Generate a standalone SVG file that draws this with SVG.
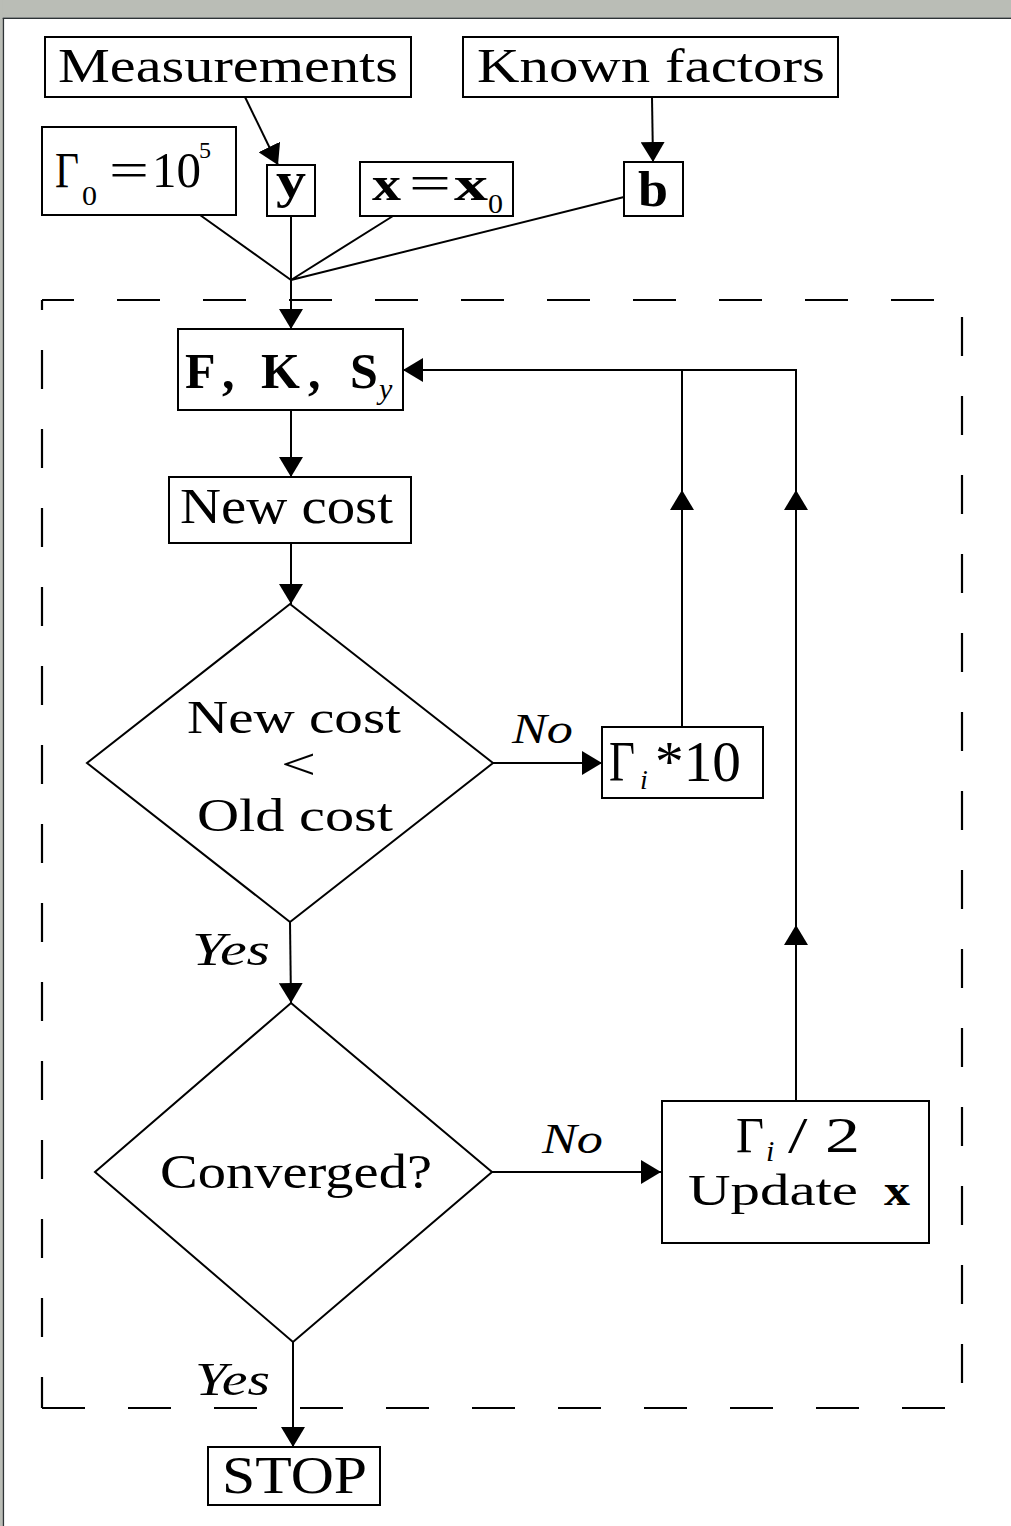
<svg xmlns="http://www.w3.org/2000/svg" width="1011" height="1526" viewBox="0 0 1011 1526">
  <style>
    .t { font-family: "Liberation Serif", "Times New Roman", serif; fill: #000; }
    .b { font-weight: bold; }
    .i { font-style: italic; }
    .box { fill: #fff; stroke: #000; stroke-width: 2; }
    .c { fill: none; stroke: #000; stroke-width: 2; }
    .arr { marker-end: url(#ah); }
    .dash { fill: none; stroke: #000; stroke-width: 2.2; }
  </style>
  <defs>
    <marker id="ah" viewBox="0 -12 20 24" refX="20" refY="0" markerWidth="20" markerHeight="24" markerUnits="userSpaceOnUse" orient="auto">
      <path d="M0,-12 L20,0 L0,12 Z" fill="#000"/>
    </marker>
  </defs>

  <!-- page and window edge -->
  <rect x="0" y="0" width="1011" height="1526" fill="#fff"/>
  <rect x="0" y="0" width="1011" height="17.5" fill="#babdb6"/>
  <rect x="0" y="0" width="2.7" height="1526" fill="#babdb6"/>
  <line x1="2.7" y1="18.2" x2="1011" y2="18.2" stroke="#2e3436" stroke-width="1.5"/>
  <line x1="3.4" y1="18" x2="3.4" y2="1526" stroke="#2e3436" stroke-width="1.4"/>

  <!-- iteration loop boundary -->
  <g id="loop-frame">
    <line class="dash" x1="42" y1="300" x2="962" y2="300" stroke-dasharray="43 43" stroke-dashoffset="11"/>
    <line class="dash" x1="962" y1="300" x2="962" y2="1408" stroke-dasharray="39 40" stroke-dashoffset="62"/>
    <line class="dash" x1="42" y1="300" x2="42" y2="1408" stroke-dasharray="39 40" stroke-dashoffset="29"/>
    <line class="dash" x1="42" y1="1408" x2="962" y2="1408" stroke-dasharray="43 43" stroke-dashoffset="0"/>
  </g>

  <!-- connectors -->
  <g id="connectors">
    <path class="c arr" d="M245,97 L278,165"/>
    <path class="c arr" d="M652,97 L653,162"/>
    <path class="c" d="M200,215 L291,280 M291,216 L291,280 M393,216 L291,280 M624,197 L291,280"/>
    <path class="c arr" d="M291,280 L291,329"/>
    <path class="c arr" d="M291,410 L291,477"/>
    <path class="c arr" d="M291,543 L291,604"/>
    <path class="c arr" d="M493,763 L602,763"/>
    <path class="c arr" d="M290,922 L291,1003"/>
    <path class="c arr" d="M492,1172 L661,1172"/>
    <path class="c arr" d="M293,1342 L293,1447"/>
    <path class="c arr" d="M682,727 L682,490"/>
    <path class="c" d="M682,490 L682,370"/>
    <path class="c arr" d="M796,1101 L796,925"/>
    <path class="c arr" d="M796,925 L796,490"/>
    <path class="c arr" d="M796,490 L796,370 L403,370"/>
    <text class="t i" x="512" y="743" font-size="42" textLength="61" lengthAdjust="spacingAndGlyphs">No</text>
    <text class="t i" x="542" y="1153" font-size="42" textLength="61" lengthAdjust="spacingAndGlyphs">No</text>
    <text class="t i" x="192" y="965" font-size="46" textLength="78" lengthAdjust="spacingAndGlyphs">Yes</text>
    <text class="t i" x="195" y="1395" font-size="46" textLength="75" lengthAdjust="spacingAndGlyphs">Yes</text>
  </g>

  <!-- inputs -->
  <g id="measurements">
    <rect class="box" x="45" y="37" width="366" height="60"/>
    <text class="t" x="58" y="82" font-size="49" textLength="340" lengthAdjust="spacingAndGlyphs">Measurements</text>
  </g>
  <g id="known-factors">
    <rect class="box" x="463" y="37" width="375" height="60"/>
    <text class="t" x="477" y="82" font-size="49" textLength="348" lengthAdjust="spacingAndGlyphs">Known factors</text>
  </g>
  <g id="gamma0">
    <rect class="box" x="42" y="127" width="194" height="88"/>
    <text class="t" x="55" y="187" font-size="50" textLength="24" lengthAdjust="spacingAndGlyphs">Γ</text>
    <text class="t" x="82" y="205" font-size="28" textLength="15" lengthAdjust="spacingAndGlyphs">0</text>
    <text class="t" x="109" y="187" font-size="50" textLength="40" lengthAdjust="spacingAndGlyphs">=</text>
    <text class="t" x="152" y="187" font-size="50" textLength="49" lengthAdjust="spacingAndGlyphs">10</text>
    <text class="t" x="199" y="158" font-size="24">5</text>
  </g>
  <g id="y">
    <rect class="box" x="267" y="165" width="48" height="51"/>
    <text class="t b" x="291" y="197" font-size="50" text-anchor="middle" textLength="30" lengthAdjust="spacingAndGlyphs">y</text>
  </g>
  <g id="x0">
    <rect class="box" x="360" y="162" width="153" height="54"/>
    <text class="t b" x="372" y="200" font-size="48" textLength="29" lengthAdjust="spacingAndGlyphs">x</text>
    <text class="t" x="409" y="200" font-size="50" textLength="42" lengthAdjust="spacingAndGlyphs">=</text>
    <text class="t b" x="454" y="200" font-size="48" textLength="34" lengthAdjust="spacingAndGlyphs">x</text>
    <text class="t" x="488" y="213" font-size="28" textLength="15" lengthAdjust="spacingAndGlyphs">0</text>
  </g>
  <g id="b">
    <rect class="box" x="624" y="162" width="59" height="54"/>
    <text class="t b" x="653" y="206" font-size="50" text-anchor="middle" textLength="30" lengthAdjust="spacingAndGlyphs">b</text>
  </g>

  <!-- loop body -->
  <g id="fks">
    <rect class="box" x="178" y="329" width="225" height="81"/>
    <text class="t b" y="388" font-size="50">
      <tspan x="185">F</tspan><tspan x="222">,</tspan><tspan x="261">K</tspan><tspan x="308">,</tspan><tspan x="350">S</tspan>
    </text>
    <text class="t i" x="379" y="399" font-size="30">y</text>
  </g>
  <g id="new-cost">
    <rect class="box" x="169" y="477" width="242" height="66"/>
    <text class="t" x="180" y="523" font-size="50" textLength="213" lengthAdjust="spacingAndGlyphs">New cost</text>
  </g>
  <g id="cost-check">
    <polygon class="box" points="290,604 493,763 290,922 87,763"/>
    <text class="t" x="187" y="733" font-size="47" textLength="214" lengthAdjust="spacingAndGlyphs">New cost</text>
    <text class="t" x="281" y="779" font-size="44" textLength="35" lengthAdjust="spacingAndGlyphs">&lt;</text>
    <text class="t" x="197" y="831" font-size="47" textLength="196" lengthAdjust="spacingAndGlyphs">Old cost</text>
  </g>
  <g id="gamma-up">
    <rect class="box" x="602" y="727" width="161" height="71"/>
    <text class="t" x="609" y="781" font-size="58" textLength="26" lengthAdjust="spacingAndGlyphs">Γ</text>
    <text class="t i" x="640" y="789" font-size="28">i</text>
    <text class="t" x="655" y="781" font-size="58" textLength="86" lengthAdjust="spacingAndGlyphs">*10</text>
  </g>
  <g id="converged">
    <polygon class="box" points="291,1003 492,1172 293,1342 95,1172"/>
    <text class="t" x="160" y="1188" font-size="48" textLength="272" lengthAdjust="spacingAndGlyphs">Converged?</text>
  </g>
  <g id="gamma-down">
    <rect class="box" x="662" y="1101" width="267" height="142"/>
    <text class="t" x="736" y="1152" font-size="51" textLength="28" lengthAdjust="spacingAndGlyphs">Γ</text>
    <text class="t i" x="766" y="1161" font-size="30">i</text>
    <text class="t" x="788" y="1152" font-size="51" textLength="72" lengthAdjust="spacingAndGlyphs">/ 2</text>
    <text class="t" x="688" y="1205" font-size="44" textLength="170" lengthAdjust="spacingAndGlyphs">Update</text>
    <text class="t b" x="884" y="1205" font-size="44" textLength="26" lengthAdjust="spacingAndGlyphs">x</text>
  </g>
  <g id="stop">
    <rect class="box" x="208" y="1447" width="172" height="58"/>
    <text class="t" x="222" y="1493" font-size="52" textLength="145" lengthAdjust="spacingAndGlyphs">STOP</text>
  </g>
</svg>
